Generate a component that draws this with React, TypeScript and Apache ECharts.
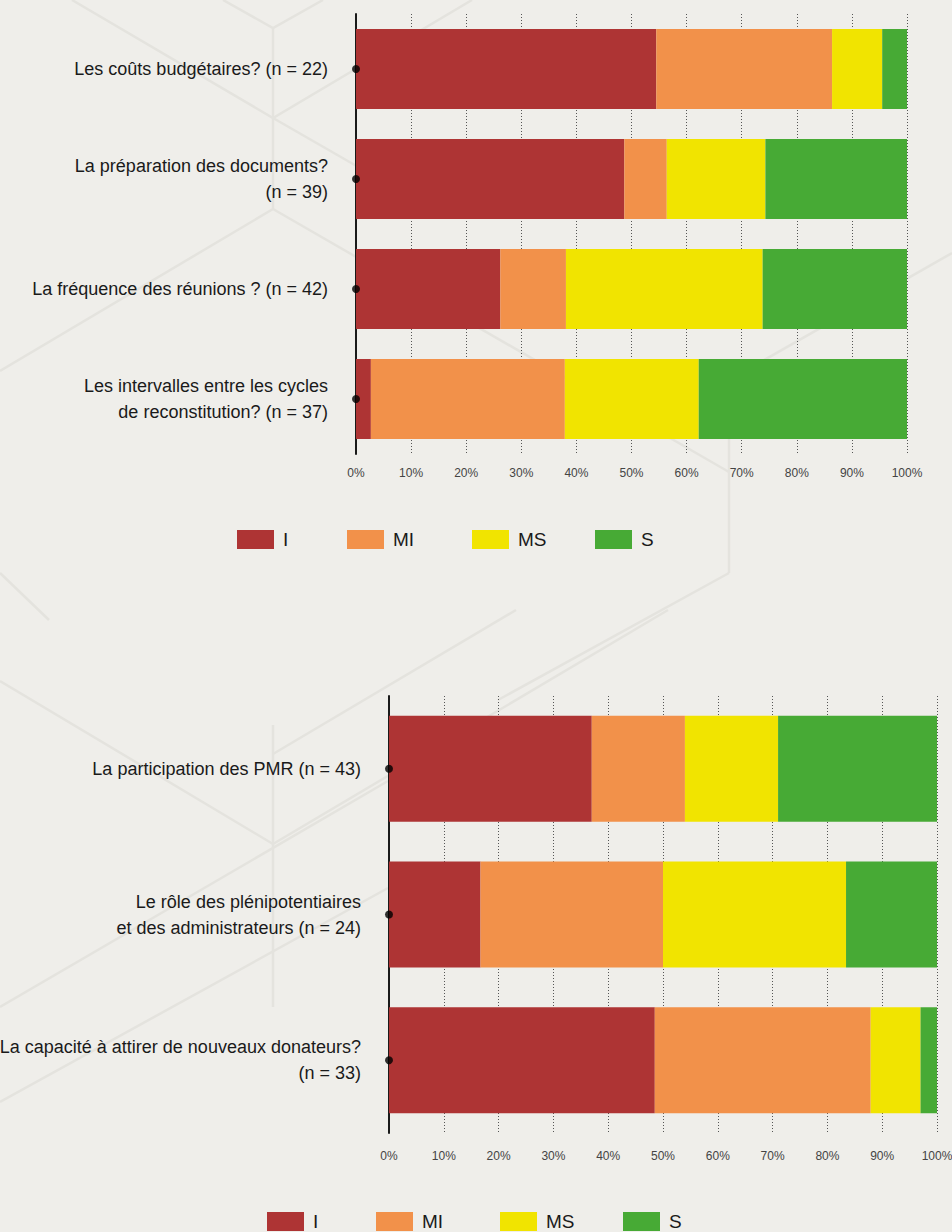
import React, { useEffect, useRef } from "react";
import * as echarts from "echarts";

const SERIES_NAMES = ["I", "MI", "MS", "S"];
const COLORS = ["#ae3434", "#f2914a", "#f1e400", "#47aa35"];

const topCategories = [
  "Les coûts budgétaires? (n = 22)",
  "La préparation des documents?\n(n = 39)",
  "La fréquence des réunions ? (n = 42)",
  "Les intervalles entre les cycles\nde reconstitution? (n = 37)",
];
const topI = [54.5, 48.7, 26.2, 2.7];
const topMI = [31.9, 7.7, 11.9, 35.2];
const topMS = [9.1, 17.9, 35.7, 24.3];
const topS = [4.5, 25.7, 26.2, 37.8];

const bottomCategories = [
  "La participation des PMR (n = 43)",
  "Le rôle des plénipotentiaires\net des administrateurs (n = 24)",
  "La capacité à attirer de nouveaux donateurs?\n(n = 33)",
];
const bottomI = [37.0, 16.7, 48.5];
const bottomMI = [17.0, 33.3, 39.4];
const bottomMS = [17.0, 33.4, 9.1];
const bottomS = [29.0, 16.6, 3.0];

const FONT = "'Liberation Sans', Arial, sans-serif";

const BG_LINES: number[][][] = [
  [[223, 0], [273, 28], [323, 0]],
  [[273, 28], [273, 209]],
  [[72, 0], [273, 118], [472, 0]],
  [[273, 118], [360, 168]],
  [[273, 209], [0, 371]],
  [[273, 209], [729, 472]],
  [[729, 435], [729, 573]],
  [[952, 253], [729, 380]],
  [[0, 573], [49, 620]],
  [[729, 573], [498, 700]],
  [[0, 681], [273, 844]],
  [[273, 725], [273, 1007]],
  [[273, 844], [668, 610]],
  [[516, 610], [273, 754]],
  [[0, 1007], [388, 781]],
  [[0, 1102], [388, 888]],
];

// horizontal positions of the legend swatches (layout only)
const TOP_LEGEND_X = [237, 347, 472, 595];
const BOTTOM_LEGEND_X = [267, 376, 500, 623];

function App() {
  const ref = useRef<HTMLDivElement>(null);
  useEffect(() => {
    if (!ref.current) return;
    const chart = echarts.init(ref.current, null, { renderer: "svg" });
    const topData = [topI, topMI, topMS, topS];
    const bottomData = [bottomI, bottomMI, bottomMS, bottomS];

    const xAxisBase = (gridIndex: number, margin: number) => ({
      gridIndex,
      type: "value",
      min: 0,
      max: 100,
      interval: 10,
      axisLine: { show: false },
      axisTick: { show: false },
      splitLine: { show: true, lineStyle: { color: "#555", width: 1, type: [1, 2] } },
      axisLabel: { formatter: "{value}%", fontSize: 12, color: "#444", margin, fontFamily: FONT },
    });

    const yAxisBase = (gridIndex: number, data: string[]) => ({
      gridIndex,
      type: "category",
      inverse: true,
      data,
      axisLine: { show: true, lineStyle: { color: "#1a1a1a", width: 2 } },
      axisTick: { show: false },
      axisLabel: {
        fontSize: 18,
        lineHeight: 26,
        color: "#1a1a1a",
        margin: 28,
        align: "right",
        fontFamily: FONT,
      },
    });

    const legends: any[] = [];
    const addLegends = (xs: number[], top: number) => {
      SERIES_NAMES.forEach((name, k) => {
        legends.push({
          left: xs[k],
          top,
          orient: "horizontal",
          itemWidth: 37,
          itemHeight: 19,
          icon: "rect",
          selectedMode: false,
          padding: 0,
          textStyle: { fontSize: 19, lineHeight: 19, color: "#1a1a1a", fontFamily: FONT, padding: [0, 0, 0, 4] },
          data: [name],
        });
      });
    };
    addLegends(TOP_LEGEND_X, 530);
    addLegends(BOTTOM_LEGEND_X, 1212);

    const series: any[] = [];
    SERIES_NAMES.forEach((name, k) => {
      series.push({
        name,
        type: "bar",
        stack: "top",
        xAxisIndex: 0,
        yAxisIndex: 0,
        barWidth: 80,
        itemStyle: { color: COLORS[k] },
        data: topData[k],
      });
    });
    SERIES_NAMES.forEach((name, k) => {
      series.push({
        name,
        type: "bar",
        stack: "bottom",
        xAxisIndex: 1,
        yAxisIndex: 1,
        barWidth: 106,
        itemStyle: { color: COLORS[k] },
        data: bottomData[k],
      });
    });
    series.push({
      name: "dots",
      type: "scatter",
      xAxisIndex: 0,
      yAxisIndex: 0,
      symbolSize: 8,
      clip: false,
      z: 10,
      itemStyle: { color: "#000" },
      data: topCategories.map((_, i) => [0, i]),
    });
    series.push({
      name: "dots2",
      type: "scatter",
      xAxisIndex: 1,
      yAxisIndex: 1,
      symbolSize: 8,
      clip: false,
      z: 10,
      itemStyle: { color: "#000" },
      data: bottomCategories.map((_, i) => [0, i]),
    });

    chart.setOption({
      animation: false,
      backgroundColor: "#efeeea",
      graphic: BG_LINES.map((pts) => ({
        type: "polyline",
        z: -10,
        silent: true,
        shape: { points: pts },
        style: { stroke: "#e4e3de", lineWidth: 2.5, fill: null },
      })),
      grid: [
        { left: 356, width: 551, top: 14, height: 440, outerBoundsMode: "none", containLabel: false },
        { left: 389, width: 548, top: 696, height: 437, outerBoundsMode: "none", containLabel: false },
      ],
      xAxis: [xAxisBase(0, 13), xAxisBase(1, 17)],
      yAxis: [yAxisBase(0, topCategories), yAxisBase(1, bottomCategories)],
      legend: legends,
      series,
    });
    return () => chart.dispose();
  }, []);
  return (
    <div
      ref={ref}
      style={{ position: "absolute", left: 0, top: 0, width: 952, height: 1232 }}
    />
  );
}

export default App;
